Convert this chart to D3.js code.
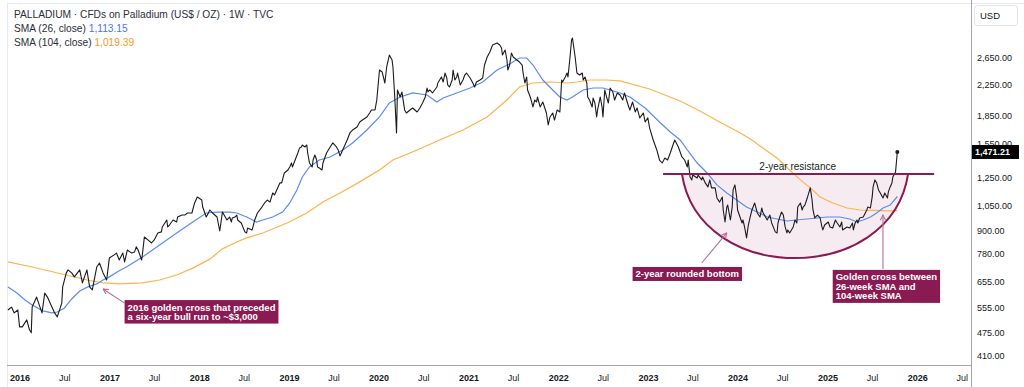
<!DOCTYPE html>
<html>
<head>
<meta charset="utf-8">
<script src="https://cdnjs.cloudflare.com/ajax/libs/d3/7.8.5/d3.min.js"></script>
<style>
  body { margin: 0; background: #fff; }
  svg { display: block; font-family: "Liberation Sans", Arial, sans-serif; }
  .axis text { fill: #131722; font-size: 9px; }
  .axis .year text { font-weight: bold; }
  .note text { fill: #fff; font-size: 9.5px; font-weight: bold; }
</style>
</head>
<body>
<svg class="chart"></svg>
<script>
// weekly closes: [decimal year, US$/oz]
var priceData = [[2015.87,547],[2015.91,557],[2015.94,537],[2015.98,547],[2016.00,492],[2016.03,492],[2016.08,514],[2016.11,483],[2016.13,474],[2016.14,557],[2016.19,593],[2016.20,582],[2016.25,537],[2016.28,608],[2016.31,593],[2016.36,557],[2016.39,537],[2016.42,524],[2016.47,571],[2016.48,632],[2016.52,690],[2016.54,703],[2016.58,690],[2016.61,673],[2016.67,703],[2016.70,648],[2016.75,703],[2016.78,632],[2016.81,620],[2016.86,716],[2016.89,734],[2016.93,690],[2016.97,660],[2017.00,757],[2017.05,771],[2017.08,781],[2017.11,748],[2017.15,781],[2017.17,739],[2017.20,796],[2017.25,781],[2017.28,786],[2017.30,812],[2017.32,796],[2017.36,748],[2017.37,781],[2017.39,864],[2017.43,848],[2017.47,832],[2017.50,848],[2017.54,886],[2017.58,892],[2017.59,920],[2017.64,961],[2017.65,920],[2017.67,931],[2017.71,961],[2017.75,949],[2017.76,979],[2017.81,991],[2017.84,991],[2017.87,1004],[2017.92,1004],[2017.95,1069],[2017.98,1110],[2018.03,1089],[2018.04,1042],[2018.08,979],[2018.12,1023],[2018.15,1004],[2018.20,979],[2018.23,897],[2018.26,1010],[2018.31,961],[2018.34,979],[2018.36,949],[2018.37,973],[2018.40,979],[2018.42,991],[2018.43,961],[2018.47,943],[2018.51,892],[2018.53,886],[2018.54,914],[2018.59,903],[2018.60,920],[2018.62,961],[2018.65,1004],[2018.70,1042],[2018.73,1069],[2018.76,1089],[2018.79,1075],[2018.82,1138],[2018.84,1124],[2018.88,1182],[2018.90,1212],[2018.92,1212],[2018.95,1290],[2018.99,1314],[2019.01,1339],[2019.03,1373],[2019.04,1339],[2019.07,1399],[2019.10,1462],[2019.12,1509],[2019.14,1518],[2019.15,1537],[2019.18,1518],[2019.20,1537],[2019.21,1462],[2019.23,1373],[2019.26,1339],[2019.27,1399],[2019.29,1444],[2019.31,1399],[2019.32,1339],[2019.34,1331],[2019.37,1314],[2019.38,1373],[2019.42,1462],[2019.46,1518],[2019.49,1557],[2019.53,1518],[2019.55,1490],[2019.57,1435],[2019.60,1490],[2019.65,1586],[2019.68,1657],[2019.71,1688],[2019.76,1720],[2019.79,1775],[2019.82,1797],[2019.87,1832],[2019.90,1878],[2019.92,1914],[2019.96,1914],[2019.98,2037],[2020.01,2458],[2020.04,2427],[2020.07,2266],[2020.09,2505],[2020.12,2700],[2020.15,2617],[2020.16,2505],[2020.18,2076],[2020.20,1657],[2020.21,2169],[2020.24,2076],[2020.26,2142],[2020.29,1914],[2020.31,1878],[2020.35,1914],[2020.38,1938],[2020.43,1890],[2020.46,1938],[2020.49,1999],[2020.52,2076],[2020.54,2196],[2020.55,2142],[2020.57,2169],[2020.60,2129],[2020.65,2210],[2020.66,2266],[2020.68,2309],[2020.70,2353],[2020.72,2280],[2020.74,2412],[2020.76,2338],[2020.77,2238],[2020.79,2210],[2020.82,2309],[2020.83,2458],[2020.85,2309],[2020.87,2353],[2020.88,2412],[2020.91,2238],[2020.94,2309],[2020.96,2382],[2020.98,2412],[2021.02,2338],[2021.05,2266],[2021.07,2210],[2021.09,2280],[2021.13,2309],[2021.16,2338],[2021.18,2536],[2021.21,2667],[2021.24,2751],[2021.27,2875],[2021.32,2911],[2021.35,2875],[2021.37,2821],[2021.38,2700],[2021.41,2786],[2021.43,2617],[2021.44,2458],[2021.46,2536],[2021.48,2734],[2021.50,2667],[2021.54,2617],[2021.57,2584],[2021.60,2536],[2021.61,2412],[2021.63,2266],[2021.65,2353],[2021.66,2169],[2021.69,2076],[2021.72,1950],[2021.74,2037],[2021.76,2012],[2021.77,2076],[2021.80,1950],[2021.83,2012],[2021.87,1878],[2021.89,1742],[2021.91,1832],[2021.94,1878],[2021.96,1797],[2021.99,1914],[2022.02,1890],[2022.04,2309],[2022.05,2280],[2022.08,2353],[2022.10,2412],[2022.11,2353],[2022.13,2617],[2022.15,2966],[2022.16,3004],[2022.19,2667],[2022.21,2412],[2022.24,2382],[2022.27,2412],[2022.28,2309],[2022.30,2353],[2022.32,2266],[2022.33,2076],[2022.35,2037],[2022.38,1950],[2022.39,2063],[2022.41,1999],[2022.43,1832],[2022.44,1914],[2022.47,2076],[2022.49,1950],[2022.50,1832],[2022.52,2169],[2022.54,2076],[2022.56,1999],[2022.58,2196],[2022.61,2142],[2022.63,2037],[2022.66,2129],[2022.69,2102],[2022.72,2037],[2022.74,2129],[2022.78,1974],[2022.80,1914],[2022.83,2012],[2022.86,1890],[2022.88,1938],[2022.91,1821],[2022.95,1878],[2022.97,1775],[2023.00,1821],[2023.02,1709],[2023.06,1586],[2023.10,1490],[2023.13,1399],[2023.16,1373],[2023.19,1417],[2023.22,1399],[2023.25,1462],[2023.28,1537],[2023.30,1586],[2023.34,1518],[2023.36,1471],[2023.38,1426],[2023.41,1399],[2023.44,1339],[2023.45,1399],[2023.47,1258],[2023.49,1235],[2023.50,1274],[2023.55,1250],[2023.56,1274],[2023.60,1235],[2023.61,1258],[2023.64,1212],[2023.67,1182],[2023.69,1235],[2023.71,1175],[2023.75,1175],[2023.77,1103],[2023.80,1075],[2023.83,1110],[2023.84,1023],[2023.86,949],[2023.88,1042],[2023.89,1055],[2023.92,961],[2023.94,1042],[2023.95,1160],[2023.97,1197],[2023.99,1110],[2024.00,1023],[2024.05,943],[2024.06,961],[2024.08,914],[2024.10,859],[2024.12,931],[2024.14,979],[2024.16,1023],[2024.19,1069],[2024.22,1004],[2024.25,979],[2024.27,1036],[2024.28,1010],[2024.33,961],[2024.36,991],[2024.38,943],[2024.42,892],[2024.44,886],[2024.45,943],[2024.47,979],[2024.49,1010],[2024.51,991],[2024.53,920],[2024.55,886],[2024.56,903],[2024.58,886],[2024.62,920],[2024.64,961],[2024.66,943],[2024.67,1042],[2024.70,1069],[2024.72,1023],[2024.73,1042],[2024.75,1055],[2024.78,1110],[2024.81,1175],[2024.83,1089],[2024.84,1023],[2024.86,973],[2024.89,991],[2024.92,973],[2024.94,920],[2024.95,903],[2024.97,931],[2025.01,949],[2025.03,920],[2025.06,914],[2025.09,961],[2025.11,943],[2025.14,920],[2025.16,949],[2025.17,903],[2025.22,920],[2025.25,914],[2025.28,943],[2025.29,903],[2025.31,943],[2025.33,961],[2025.34,943],[2025.36,973],[2025.40,979],[2025.44,1023],[2025.45,1042],[2025.48,1036],[2025.50,1110],[2025.51,1182],[2025.53,1235],[2025.55,1212],[2025.57,1160],[2025.59,1138],[2025.62,1103],[2025.64,1138],[2025.67,1103],[2025.68,1146],[2025.70,1182],[2025.72,1212],[2025.73,1258],[2025.76,1298],[2025.78,1471.21]];

// 26-week SMA (blue)
var sma26Data = [[2015.87,632],[2015.97,608],[2016.06,582],[2016.14,564],[2016.26,544],[2016.36,537],[2016.42,540],[2016.50,554],[2016.58,586],[2016.67,616],[2016.76,632],[2016.86,644],[2016.93,660],[2017.00,673],[2017.11,699],[2017.19,716],[2017.37,762],[2017.56,822],[2017.75,886],[2017.93,949],[2018.08,1004],[2018.20,1010],[2018.34,1010],[2018.42,1004],[2018.53,979],[2018.64,949],[2018.71,961],[2018.82,979],[2018.93,1010],[2019.01,1069],[2019.09,1160],[2019.15,1258],[2019.23,1339],[2019.34,1399],[2019.46,1426],[2019.60,1490],[2019.71,1557],[2019.87,1688],[2020.01,1832],[2020.12,1999],[2020.24,2076],[2020.38,2129],[2020.54,2102],[2020.65,2012],[2020.72,2063],[2020.87,2129],[2021.02,2196],[2021.16,2280],[2021.32,2458],[2021.46,2552],[2021.57,2650],[2021.65,2650],[2021.72,2536],[2021.83,2309],[2021.94,2169],[2022.02,2076],[2022.10,2037],[2022.16,2076],[2022.28,2169],[2022.39,2196],[2022.50,2196],[2022.58,2169],[2022.69,2129],[2022.80,2076],[2022.97,1938],[2023.13,1775],[2023.25,1667],[2023.36,1586],[2023.44,1490],[2023.55,1373],[2023.66,1290],[2023.77,1197],[2023.88,1138],[2023.99,1089],[2024.10,1042],[2024.22,1010],[2024.33,979],[2024.44,967],[2024.55,955],[2024.66,961],[2024.77,967],[2024.89,973],[2025.00,979],[2025.14,979],[2025.25,967],[2025.33,949],[2025.40,961],[2025.48,979],[2025.55,1004],[2025.62,1036],[2025.70,1055],[2025.78,1113.15]];

// 104-week SMA (orange)
var sma104Data = [[2015.87,739],[2016.14,716],[2016.52,681],[2016.75,660],[2016.93,648],[2017.11,644],[2017.37,648],[2017.56,660],[2017.75,681],[2017.93,711],[2018.12,752],[2018.26,802],[2018.42,837],[2018.53,859],[2018.71,886],[2018.98,943],[2019.20,1004],[2019.38,1075],[2019.57,1138],[2019.79,1220],[2020.01,1314],[2020.16,1399],[2020.43,1490],[2020.68,1586],[2020.94,1688],[2021.21,1832],[2021.43,2037],[2021.57,2210],[2021.72,2266],[2021.91,2280],[2022.10,2266],[2022.21,2280],[2022.35,2309],[2022.54,2309],[2022.69,2295],[2023.02,2183],[2023.36,2024],[2023.58,1902],[2023.80,1775],[2024.03,1657],[2024.16,1586],[2024.28,1509],[2024.44,1417],[2024.58,1314],[2024.70,1235],[2024.81,1175],[2024.92,1110],[2025.06,1069],[2025.22,1036],[2025.36,1023],[2025.51,1020],[2025.67,1018],[2025.78,1019.39]];

var priceTicks = [2650, 2250, 1850, 1550, 1250, 1050, 900, 780, 655, 555, 475, 410];
var tickYears = [2016, 2017, 2018, 2019, 2020, 2021, 2022, 2023, 2024, 2025, 2026];
var lastClose = 1471.21, lastSma26 = 1113.15, lastSma104 = 1019.39;

// annotations (decimal year / price)
var resistanceLevel = 1282, resistanceFrom = 2023.17, resistanceTo = 2026.19;
var bottomFrom = 2023.38, bottomTo = 2025.90, bottomLow = 757;
var notes = [
  {lines: ["2016 golden cross that preceded", "a six-year bull run to ~$3,000"], box: [2017.17, 582], tail: [2017.17, 571], tip: [2016.93, 624]},
  {lines: ["2-year rounded bottom"], box: [2022.83, 716], tail: [2023.60, 734], tip: [2023.88, 886]},
  {lines: ["Golden cross between", "26-week SMA and", "104-week SMA"], box: [2025.06, 703], tail: [2025.62, 707], tip: [2025.62, 991]}
];

var width = 1024, height = 387;
var axisX = 971.5, axisY = 365.5;
var maroon = "#8a1a52", arrowCol = "#b36f98";
var blue = "#5a8cf0", orange = "#ffb24d";

function toDate(t) {
  return new Date(Date.UTC(2016, 0, 1) + (t - 2016) * 365.25 * 864e5);
}

var chart = d3.select('.chart')
  .attr("width", width)
  .attr("height", height);

var x = d3.scaleUtc()
  .domain([Date.UTC(2016, 0, 1), Date.UTC(2026, 0, 1)])
  .range([19.6, 917.2]);

var y = d3.scaleLog()
  .domain([410, 2650])
  .range([356, 58]);

// frame
chart.append("rect")
  .attr("x", 7.5).attr("y", 3.5)
  .attr("width", width).attr("height", height)
  .attr("fill", "none").attr("stroke", "#e8e9ee");

//rounded bottom fill
var xb0 = x(toDate(bottomFrom)), xb1 = x(toDate(bottomTo));
var yTop = y(resistanceLevel), yLow = y(bottomLow);
var ctrlY = yTop + (yLow - yTop) * 4 / 3, dx = (xb1 - xb0) * 0.075;
var bowl = "M" + xb0 + "," + yTop + " C" + (xb0 + dx) + "," + ctrlY + " " + (xb1 - dx) + "," + ctrlY + " " + xb1 + "," + yTop;

chart.append("path")
  .attr("d", bowl + " Z")
  .attr("fill", "#f6ebf0");

// lines
var line = d3.line()
  .x(function(d) { return x(toDate(d[0])); })
  .y(function(d) { return y(d[1]); });

chart.append("path")
  .datum(sma104Data)
  .attr("d", line)
  .attr("fill", "none").attr("stroke", orange).attr("stroke-width", 1.2);

chart.append("path")
  .datum(sma26Data)
  .attr("d", line)
  .attr("fill", "none").attr("stroke", blue).attr("stroke-width", 1.2);

chart.append("path")
  .datum(priceData)
  .attr("d", line)
  .attr("fill", "none").attr("stroke", "#1b1b1f").attr("stroke-width", 1.1)
  .attr("stroke-linejoin", "round");

var last = priceData[priceData.length - 1];
chart.append("circle")
  .attr("cx", x(toDate(last[0]))).attr("cy", y(last[1]))
  .attr("r", 2).attr("fill", "#1b1b1f");

// bowl outline + resistance
chart.append("path")
  .attr("d", bowl)
  .attr("fill", "none").attr("stroke", maroon).attr("stroke-width", 2);

chart.append("line")
  .attr("x1", x(toDate(resistanceFrom))).attr("x2", x(toDate(resistanceTo)))
  .attr("y1", yTop).attr("y2", yTop)
  .attr("stroke", maroon).attr("stroke-width", 2);

chart.append("text")
  .attr("x", x(toDate(2024.67))).attr("y", yTop - 4)
  .attr("text-anchor", "middle")
  .attr("font-size", 10).attr("fill", "#222")
  .text("2-year resistance");

// arrows + label boxes
chart.append("defs").append("marker")
  .attr("id", "arr")
  .attr("viewBox", "0 0 10 10")
  .attr("refX", 9).attr("refY", 5)
  .attr("markerWidth", 6).attr("markerHeight", 6)
  .attr("orient", "auto")
  .append("path")
  .attr("d", "M1,1 L9,5 L1,9")
  .attr("fill", "none").attr("stroke", arrowCol).attr("stroke-width", 1.6);

notes.forEach(function(n) {
  chart.append("line")
    .attr("x1", x(toDate(n.tail[0]))).attr("y1", y(n.tail[1]))
    .attr("x2", x(toDate(n.tip[0]))).attr("y2", y(n.tip[1]))
    .attr("stroke", arrowCol).attr("stroke-width", 1.1)
    .attr("marker-end", "url(#arr)");

  var g = chart.append("g").attr("class", "note")
    .attr("transform", "translate(" + x(toDate(n.box[0])) + "," + y(n.box[1]) + ")");
  var rect = g.append("rect").attr("fill", maroon);
  var w = 0;
  n.lines.forEach(function(s, i) {
    var t = g.append("text").attr("x", 3).attr("y", 10.5 + i * 9.5).text(s);
    w = Math.max(w, t.node().getComputedTextLength());
  });
  rect.attr("width", w + 6).attr("height", 4.5 + n.lines.length * 9.5);
});

// axes
chart.append("line")
  .attr("x1", 7).attr("x2", axisX).attr("y1", axisY).attr("y2", axisY)
  .attr("stroke", "#a3a6af");
chart.append("line")
  .attr("x1", axisX).attr("x2", axisX).attr("y1", 0).attr("y2", height)
  .attr("stroke", "#a3a6af");

var tickDates = [];
tickYears.forEach(function(yr) {
  tickDates.push(new Date(Date.UTC(yr, 0, 1)));
  tickDates.push(new Date(Date.UTC(yr, 6, 1)));
});

var xAxis = chart.append("g")
  .attr("class", "axis x")
  .attr("transform", "translate(0," + axisY + ")")
  .call(d3.axisBottom(x)
    .tickValues(tickDates)
    .tickSize(0)
    .tickPadding(9)
    .tickFormat(function(d) { return d.getUTCMonth() == 0 ? d.getUTCFullYear() : "Jul"; }));
xAxis.select(".domain").remove();
xAxis.selectAll(".tick").classed("year", function(d) { return d.getUTCMonth() == 0; });

var yAxis = chart.append("g")
  .attr("class", "axis y")
  .attr("transform", "translate(" + axisX + ",0)")
  .call(d3.axisRight(y)
    .tickValues(priceTicks)
    .tickSize(0)
    .tickPadding(5.5)
    .tickFormat(d3.format(",.2f")));
yAxis.select(".domain").remove();

// last price tag
var tagY = y(lastClose);
chart.append("rect")
  .attr("x", 972).attr("y", tagY - 7)
  .attr("width", 47).attr("height", 14)
  .attr("fill", "#000");
chart.append("text")
  .attr("x", 975).attr("y", tagY + 3.2)
  .attr("font-size", 9).attr("font-weight", "bold").attr("fill", "#fff")
  .text(d3.format(",.2f")(lastClose));

// USD box
chart.append("rect")
  .attr("x", 974.5).attr("y", 5.5).attr("width", 43).attr("height", 20).attr("rx", 3)
  .attr("fill", "#fff").attr("stroke", "#e0e3eb");
chart.append("text")
  .attr("x", 980).attr("y", 19)
  .attr("font-size", 9.5).attr("fill", "#131722")
  .text("USD");

// legend header
var head = chart.append("g").attr("font-size", 10.2).attr("fill", "#2a2e39");
head.append("text").attr("x", 14).attr("y", 18)
  .text("PALLADIUM \u00b7 CFDs on Palladium (US$ / OZ) \u00b7 1W \u00b7 TVC");
var l1 = head.append("text").attr("x", 14).attr("y", 32);
l1.append("tspan").text("SMA (26, close)  ");
l1.append("tspan").attr("fill", "#3f78f2").text(d3.format(",.2f")(lastSma26));
var l2 = head.append("text").attr("x", 14).attr("y", 46);
l2.append("tspan").text("SMA (104, close)  ");
l2.append("tspan").attr("fill", "#f59a1b").text(d3.format(",.2f")(lastSma104));
</script>
</body>
</html>
